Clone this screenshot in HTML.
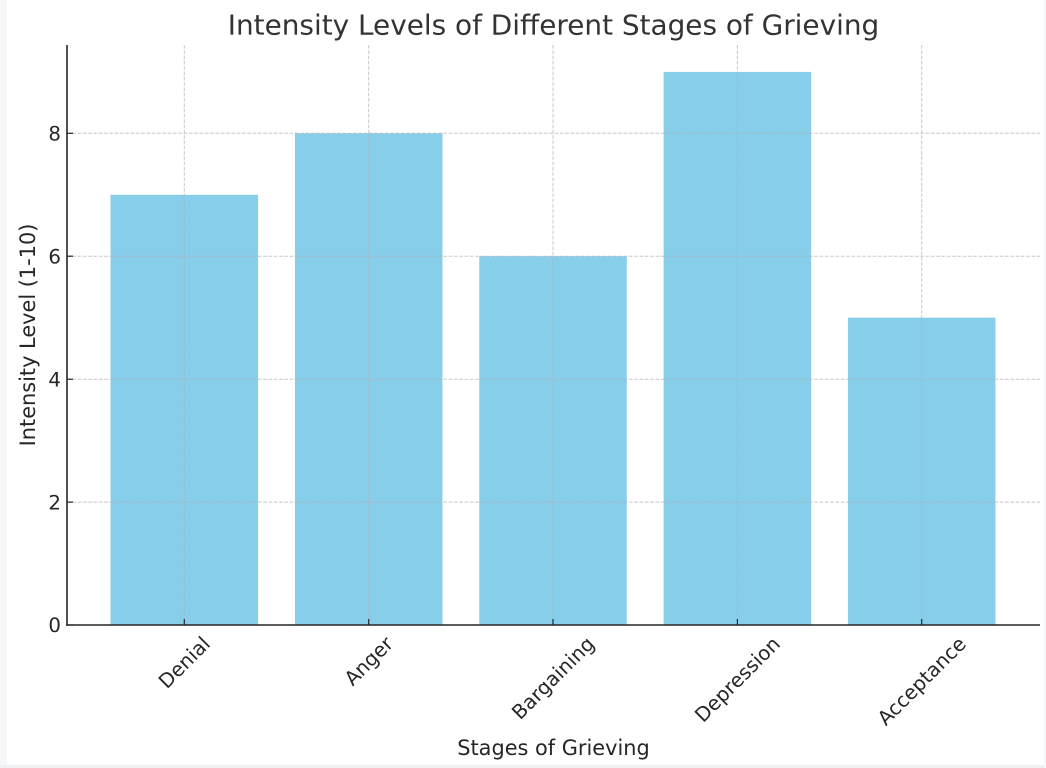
<!DOCTYPE html>
<html>
<head>
<meta charset="utf-8">
<style>
  html, body { margin: 0; padding: 0; background: #ffffff; }
  body { width: 1046px; height: 768px; overflow: hidden; position: relative; }
  svg { display: block; }
  text { font-family: "DejaVu Sans", "Liberation Sans", sans-serif; fill: #262626; }
</style>
</head>
<body>
<svg width="1046" height="768" viewBox="0 0 1046 768" xmlns="http://www.w3.org/2000/svg">
  <rect x="0" y="0" width="1046" height="768" fill="#ffffff"/>
  <!-- faint page edges -->
  <rect x="0" y="0" width="7" height="768" fill="#f6f7f9"/>
  <rect x="0" y="765" width="1046" height="3" fill="#eef0f2"/>
  <rect x="1044" y="0" width="2" height="768" fill="#f6f7f9"/>

  <!-- Title -->
  <text x="553.5" y="34.5" text-anchor="middle" font-size="27.9" style="fill:#333">Intensity Levels of Different Stages of Grieving</text>

  <!-- Bars -->
  <g fill="#87CEEB">
    <rect x="110.55" y="194.8" width="147.5" height="430.2"/>
    <rect x="294.95" y="133.3" width="147.5" height="491.7"/>
    <rect x="479.25" y="256.2" width="147.5" height="368.8"/>
    <rect x="663.65" y="71.9" width="147.5" height="553.1"/>
    <rect x="847.95" y="317.7" width="147.5" height="307.3"/>
  </g>

  <!-- Grid -->
  <g stroke="#b0b0b0" stroke-width="1" stroke-opacity="0.7" stroke-dasharray="3.7 1.6" fill="none">
    <line x1="67" y1="502.1" x2="1040" y2="502.1"/>
    <line x1="67" y1="379.2" x2="1040" y2="379.2"/>
    <line x1="67" y1="256.2" x2="1040" y2="256.2"/>
    <line x1="67" y1="133.3" x2="1040" y2="133.3"/>
    <line x1="184.3" y1="45" x2="184.3" y2="625"/>
    <line x1="368.7" y1="45" x2="368.7" y2="625"/>
    <line x1="553.0" y1="45" x2="553.0" y2="625"/>
    <line x1="737.4" y1="45" x2="737.4" y2="625"/>
    <line x1="921.7" y1="45" x2="921.7" y2="625"/>
  </g>

  <!-- Spines -->
  <g stroke="#262626" stroke-width="1.6" fill="none">
    <line x1="67" y1="45" x2="67" y2="625.8"/>
    <line x1="66.2" y1="625" x2="1040" y2="625"/>
  </g>

  <!-- Ticks (inward) -->
  <g stroke="#262626" stroke-width="1.2">
    <line x1="67" y1="625" x2="73" y2="625"/>
    <line x1="67" y1="502.1" x2="73" y2="502.1"/>
    <line x1="67" y1="379.2" x2="73" y2="379.2"/>
    <line x1="67" y1="256.2" x2="73" y2="256.2"/>
    <line x1="67" y1="133.3" x2="73" y2="133.3"/>
    <line x1="184.3" y1="625" x2="184.3" y2="619"/>
    <line x1="368.7" y1="625" x2="368.7" y2="619"/>
    <line x1="553.0" y1="625" x2="553.0" y2="619"/>
    <line x1="737.4" y1="625" x2="737.4" y2="619"/>
    <line x1="921.7" y1="625" x2="921.7" y2="619"/>
  </g>

  <!-- Y tick labels -->
  <g font-size="19.8" text-anchor="end">
    <text x="61" y="632.2">0</text>
    <text x="61" y="509.3">2</text>
    <text x="61" y="386.4">4</text>
    <text x="61" y="263.4">6</text>
    <text x="61" y="140.5">8</text>
  </g>

  <!-- X tick labels (rotated 45) -->
  <g font-size="19.8" text-anchor="middle">
    <text transform="translate(184.3,662.5) rotate(-45)" y="6.85">Denial</text>
    <text transform="translate(368.7,661) rotate(-45)" y="6.85">Anger</text>
    <text transform="translate(553.0,678) rotate(-45)" y="6.85">Bargaining</text>
    <text transform="translate(737.4,679.4) rotate(-45)" y="6.85">Depression</text>
    <text transform="translate(921.7,681) rotate(-45)" y="6.85">Acceptance</text>
  </g>

  <!-- Axis labels -->
  <text x="553.5" y="755" text-anchor="middle" font-size="20.87">Stages of Grieving</text>
  <text transform="translate(35,335) rotate(-90)" text-anchor="middle" font-size="20.87">Intensity Level (1-10)</text>
</svg>
</body>
</html>
